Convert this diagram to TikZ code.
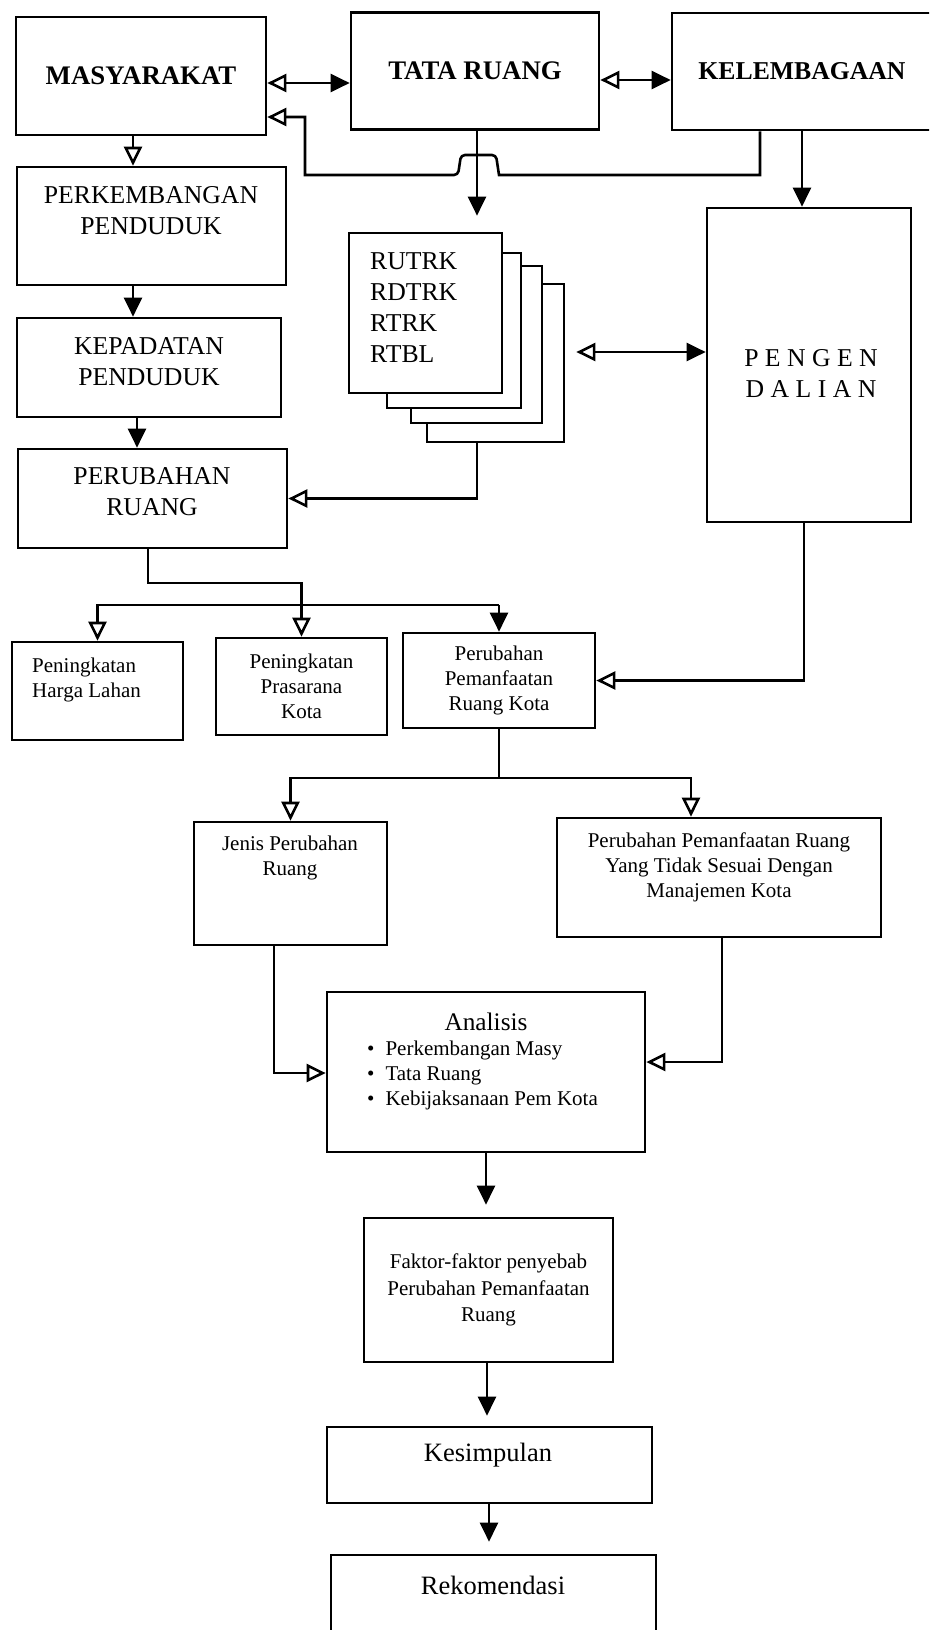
\documentclass[tikz,border=0pt]{standalone}
\usepackage{fontspec}
\setmainfont{Liberation Serif}
\usepackage{tikz}
\usetikzlibrary{arrows.meta,positioning}

\newcommand{\bigfont}{\fontsize{25.7}{31}\selectfont}
\newcommand{\smallfont}{\fontsize{21}{25}\selectfont}

\begin{document}
\begin{tikzpicture}[x=1pt, y=-1pt,
    box/.style={draw, line width=2.7pt, fill=white, inner sep=0pt},
    bigtxt/.style={font=\bigfont, align=center, inner sep=0pt},
    smalltxt/.style={font=\smallfont, align=center, inner sep=0pt},
    arr/.style={line width=2.6pt, -{Triangle[length=19pt,width=18pt]}},
    arro/.style={line width=2.6pt, -{Triangle[open,length=19pt,width=18pt]}},
    dblarr/.style={line width=2.6pt, {Triangle[open,length=19pt,width=18pt]}-{Triangle[length=19pt,width=18pt]}}]
    \useasboundingbox (0,0) rectangle (929,1630);
    \clip (0,0) rectangle (929,1630);

    % Top row
    \node[box, minimum width=250pt, minimum height=118pt, font=\fontsize{26.8}{31}\selectfont\bfseries] (masy) at (141,76) {MASYARAKAT};
    \node[box, minimum width=248pt, minimum height=117pt, font=\fontsize{26.8}{31}\selectfont\bfseries] (tata) at (475,71) {TATA RUANG};
    \node[box, minimum width=260pt, minimum height=117pt, font=\bigfont\bfseries] (kel) at (802,71.5) {KELEMBAGAAN};

    % Left column
    \node[box, minimum width=269pt, minimum height=118pt] (perk) at (151.5,226) {};
    \node[bigtxt] (perk-t) at (151,211) {PERKEMBANGAN\\PENDUDUK};
    \node[box, minimum width=264pt, minimum height=99pt] (kep) at (149,367.5) {};
    \node[bigtxt] (kep-t) at (149,362) {KEPADATAN\\PENDUDUK};
    \node[box, minimum width=269pt, minimum height=99pt] (perub) at (152.5,498.5) {};
    \node[bigtxt] (perub-t) at (152,492) {PERUBAHAN\\RUANG};

    % Stack of plans
    \foreach \i/\l/\t/\r/\b in {3/427/284/564/442, 2/411/266/542/423, 1/387/253/521/408}
        \node[box, minimum width={(\r-\l)*1pt}, minimum height={(\b-\t)*1pt}] (pg\i) at ({(\l+\r)/2},{(\t+\b)/2}) {};
    \node[box, minimum width=153pt, minimum height=160pt] (rencana) at (425.5,313) {};
    \node[bigtxt, align=left, anchor=west] (rencana-t) at (370,308) {RUTRK\\RDTRK\\RTRK\\RTBL};

    % Control
    \node[box, minimum width=204pt, minimum height=314pt] (peng) at (809,365) {};
    \node[bigtxt] (peng-t) at (811,374) {P E N G E N\\D A L I A N};

    % Middle row
    \node[box, minimum width=171pt, minimum height=98pt] (harga) at (97.5,691) {};
    \node[smalltxt, align=left, anchor=west] (harga-t) at (32,680) {Peningkatan\\Harga Lahan};
    \node[box, minimum width=171pt, minimum height=97pt, font=\smallfont, align=center] (pras) at (301.5,686.5) {Peningkatan\\Prasarana\\Kota};
    \node[box, minimum width=192pt, minimum height=95pt, font=\smallfont, align=center] (ppk) at (499,680.5) {Perubahan\\Pemanfaatan\\Ruang Kota};

    \node[box, minimum width=193pt, minimum height=123pt] (jenis) at (290.5,883.5) {};
    \node[smalltxt] (jenis-t) at (290,858) {Jenis Perubahan\\Ruang};
    \node[box, minimum width=324pt, minimum height=119pt] (ppr) at (719,877.5) {};
    \node[smalltxt] (ppr-t) at (719,867) {Perubahan Pemanfaatan Ruang\\Yang Tidak Sesuai Dengan\\Manajemen Kota};

    % Analysis and results
    \node[box, minimum width=318pt, minimum height=160pt] (anal) at (486,1072) {};
    \node[font=\fontsize{25.3}{30}\selectfont, inner sep=0pt] (anal-t) at (486,1022) {Analisis};
    \node[smalltxt, align=left, anchor=north west] (anal-l) at (367,1041)
        {\textbullet\hspace{11pt}Perkembangan Masy\\\textbullet\hspace{11pt}Tata Ruang\\\textbullet\hspace{11pt}Kebijaksanaan Pem Kota};
    \node[box, minimum width=249pt, minimum height=144pt, font=\fontsize{21}{26.5}\selectfont, align=center] (faktor) at (488.5,1290) {Faktor-faktor penyebab\\Perubahan Pemanfaatan\\Ruang};
    \node[box, minimum width=325pt, minimum height=76pt] (kes) at (489.5,1465) {};
    \node[font=\fontsize{26.5}{31}\selectfont, inner sep=0pt] (kes-t) at (488,1455) {Kesimpulan};
    \node[box, minimum width=325pt, minimum height=160pt] (rek) at (493.5,1635) {};
    \node[font=\fontsize{26.5}{31}\selectfont, inner sep=0pt] (rek-t) at (493,1585) {Rekomendasi};

    % Connectors, top
    \draw[dblarr] (masy.east |- 0,83) -- (tata.west |- 0,83);
    \draw[dblarr] (tata.east |- 0,80) -- (kel.west |- 0,80);
    \draw[arro] (760,0 |- kel.south) -- (760,175) -- (499,175) [rounded corners=4pt] -- (496,155) -- (461,155) -- (458,175) [sharp corners] -- (305,175) -- (305,117) -- (masy.east |- 0,117);
    \draw[arr, shorten >=16pt] (477,0 |- tata.south) -- (477,0 |- rencana.north);
    \draw[arr] (kel.south) -- (kel.south |- peng.north);

    % Left column
    \draw[arro] (133,0 |- masy.south) -- (133,0 |- perk.north);
    \draw[arr] (133,0 |- perk.south) -- (133,0 |- kep.north);
    \draw[arr] (137,0 |- kep.south) -- (137,0 |- perub.north);

    % Plans
    \draw[arro] (477,0 |- pg3.south) |- (perub.east);
    \draw[dblarr, shorten <=11pt] (pg3.east |- 0,352) -- (peng.west |- 0,352);

    % Split to the middle row
    \draw[arro] (148,0 |- perub.south) |- (pras.north |- 0,583) -- (pras.north);
    \draw[arro] (ppk.north |- 0,605) -| (harga.north);
    \draw[arr] (ppk.north |- 0,605) -- (ppk.north);
    \draw[arro] (804,0 |- peng.south) |- (ppk.east);

    \draw[arro] (ppk.south) |- (jenis.north |- 0,778) -- (jenis.north);
    \draw[arro] (ppk.south |- 0,778) -| (691,0 |- ppr.north);

    % Down to the conclusion
    \draw[arro] (274,0 |- jenis.south) |- (anal.west |- 0,1073);
    \draw[arro] (722,0 |- ppr.south) |- (anal.east |- 0,1062);
    \draw[arr, shorten >=12pt] (486,0 |- anal.south) -- (486,0 |- faktor.north);
    \draw[arr, shorten >=10pt] (487,0 |- faktor.south) -- (487,0 |- kes.north);
    \draw[arr, shorten >=12pt] (489,0 |- kes.south) -- (489,0 |- rek.north);
\end{tikzpicture}
\end{document}
